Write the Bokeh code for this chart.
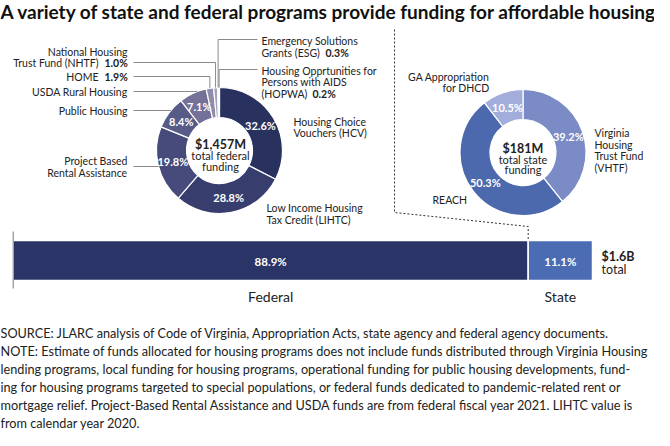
import math
from bokeh.plotting import figure
from bokeh.models import Range1d, ColumnDataSource
from bokeh.core.properties import value
from bokeh.embed import file_html
from bokeh.resources import INLINE

# ---------------- data ----------------
title = "A variety of state and federal programs provide funding for affordable housing"

fed_programs = ["HCV", "LIHTC", "PBRA", "Public Housing", "USDA", "HOME", "NHTF", "ESG", "HOPWA"]
fed_shares = [32.6, 28.8, 19.8, 8.4, 7.1, 1.9, 1.0, 0.3, 0.2]
fed_colors = ["#29325f", "#373e6e", "#464b7b", "#585b87", "#747199", "#8e8caa", "#a3a1bb", "#b9b8ca", "#cac9d6"]
fed_total_label = "$1,457M"
fed_center_lines = ["total federal", "funding"]

state_programs = ["VHTF", "REACH", "GA Appropriation"]
state_shares = [39.2, 50.3, 10.5]
state_colors = ["#7a8bc6", "#4d69ad", "#a2addb"]
state_total_label = "$181M"
state_center_lines = ["total state", "funding"]

bar_categories = ["Federal", "State"]
bar_shares = [88.9, 11.1]
bar_colors = ["#2b3466", "#4b6cb2"]
overall_total = "$1.6B"
overall_total_sub = "total"

note_lines = [
    "SOURCE: JLARC analysis of Code of Virginia, Appropriation Acts, state agency and federal agency documents.",
    "NOTE: Estimate of funds allocated for housing programs does not include funds distributed through Virginia Housing",
    "lending programs, local funding for housing programs, operational funding for public housing developments, fund-",
    "ing for housing programs targeted to special populations, or federal funds dedicated to pandemic-related rent or",
    "mortgage relief. Project-Based Rental Assistance and USDA funds are from federal fiscal year 2021. LIHTC value is",
    "from calendar year 2020.",
]

# ---------------- layout helpers ----------------
W, H = 654, 430
FONT = value("Lato")
TXT = "#222222"
LEAD = "#8a8a8a"


def X(px):
    return px - 8


def Y(py):
    return 438 - py


p = figure(width=W, height=H, output_backend="svg", toolbar_location=None,
           x_range=Range1d(0, W), y_range=Range1d(0, H),
           x_axis_type=None, y_axis_type=None, min_border=0)
p.outline_line_color = None
p.grid.visible = False
p.background_fill_color = "white"
p.border_fill_color = "white"


def label(x, y, text, size="10.5px", bold=False, align="left", color=TXT, baseline="middle"):
    p.text(x=[X(x)], y=[Y(y)], text=[text], text_font=FONT, text_font_size=size,
           text_font_style="bold" if bold else "normal", text_align=align,
           text_baseline=baseline, text_color=color)


def donut(cx, cy, shares, colors, r_in, r_out):
    tot = sum(shares)
    starts, ends, mids = [], [], []
    c = 0.0
    for s in shares:
        a0 = math.pi / 2 - 2 * math.pi * c / tot
        c += s
        a1 = math.pi / 2 - 2 * math.pi * c / tot
        starts.append(a0)
        ends.append(a1)
        mids.append((a0 + a1) / 2)
    src = ColumnDataSource(dict(start=starts, end=ends, color=colors))
    p.annular_wedge(x=X(cx), y=Y(cy), inner_radius=r_in, outer_radius=r_out,
                    start_angle="start", end_angle="end", direction="clock",
                    fill_color="color", line_color="white", line_width=1.2, source=src)
    rm = (r_in + r_out) / 2
    lx, ly, lt = [], [], []
    for s, m in zip(shares, mids):
        if s >= 5:
            lx.append(X(cx) + rm * math.cos(m))
            ly.append(Y(cy) + rm * math.sin(m))
            lt.append(f"{s:.1f}%")
    p.text(x=lx, y=ly, text=lt, text_font=FONT, text_font_size="11px", text_font_style="bold",
           text_align="center", text_baseline="middle", text_color="white")
    return mids


R_IN, R_OUT = 33, 63

# ---------------- federal donut ----------------
FCX, FCY = 227, 158
fmids = donut(FCX, FCY, fed_shares, fed_colors, R_IN, R_OUT)


def edge(cx, cy, ang):
    return X(cx) + R_OUT * math.cos(ang), Y(cy) + R_OUT * math.sin(ang)


def circle_x_left(cx, cy, py):
    dy = Y(py) - Y(cy)
    return X(cx) - math.sqrt(max(R_OUT ** 2 - dy ** 2, 0))


lead_xs, lead_ys = [], []
# vertical-drop leaders (left side): NHTF, HOME
for idx, ly in ((6, 70), (5, 84)):
    ex, ey = edge(FCX, FCY, fmids[idx])
    lead_xs.append([X(141), ex, ex])
    lead_ys.append([Y(ly), Y(ly), ey])
# horizontal leaders: USDA, Public Housing, PBRA
for ly in (99, 118, 174):
    lead_xs.append([X(141), circle_x_left(FCX, FCY, ly)])
    lead_ys.append([Y(ly), Y(ly)])
# right side vertical leaders: ESG, HOPWA
for idx, ly in ((7, 47), (8, 77)):
    ex, ey = edge(FCX, FCY, fmids[idx])
    lead_xs.append([X(265), ex, ex])
    lead_ys.append([Y(ly), Y(ly), ey])
p.multi_line(xs=lead_xs, ys=lead_ys, line_color=LEAD, line_width=1)

# left labels
label(135, 59, "National Housing", align="right")
label(106, 70, "Trust Fund (NHTF)", align="right")
label(112, 70, f"{fed_shares[6]:.1f}%", bold=True)
label(106, 84, "HOME", align="right")
label(112, 84, f"{fed_shares[5]:.1f}%", bold=True)
label(135, 99, "USDA Rural Housing", align="right")
label(135, 118, "Public Housing", align="right")
label(135, 168, "Project Based", align="right")
label(135, 180, "Rental Assistance", align="right")
# right labels
label(269, 48, "Emergency Solutions")
label(269, 60, "Grants (ESG)")
label(333, 60, f"{fed_shares[7]:.1f}%", bold=True)
label(269, 78, "Housing Opprtunities for")
label(269, 89, "Persons with AIDS")
label(269, 101, "(HOPWA)")
label(320, 101, f"{fed_shares[8]:.1f}%", bold=True)
label(301, 129, "Housing Choice")
label(301, 140, "Vouchers (HCV)")
label(274, 215, "Low Income Housing")
label(274, 227, "Tax Credit (LIHTC)")
# center
label(FCX + 1, 152, fed_total_label, size="12.5px", bold=True, align="center")
label(FCX + 1, 163, fed_center_lines[0], size="11px", align="center")
label(FCX + 1, 173.5, fed_center_lines[1], size="11px", align="center")

# ---------------- state donut ----------------
SCX, SCY = 530.5, 160
donut(SCX, SCY, state_shares, state_colors, R_IN, R_OUT)
label(497, 84, "GA Appropriation", align="right")
label(497, 95, "for DHCD", align="right")
label(602, 140, "Virginia")
label(602, 152, "Housing")
label(602, 163, "Trust Fund")
label(602, 175, "(VHTF)")
label(440, 207, "REACH")
label(SCX, 156, state_total_label, size="12.5px", bold=True, align="center")
label(SCX, 166.5, state_center_lines[0], size="11px", align="center")
label(SCX, 176.5, state_center_lines[1], size="11px", align="center")

# ---------------- stacked bar ----------------
BAR_L, BAR_R = X(20.7), X(600)
span = 100.0 * W / (BAR_R - BAR_L)
r0 = -BAR_L * span / W
p.extra_x_ranges = {"pct": Range1d(r0, r0 + span)}
lefts, rights = [], []
c = 0.0
for s in bar_shares:
    lefts.append(c)
    c += s
    rights.append(c)
bsrc = ColumnDataSource(dict(left=lefts, right=rights, color=bar_colors,
                             mid=[(a + b) / 2 for a, b in zip(lefts, rights)],
                             pct=[f"{s:.1f}%" for s in bar_shares], cat=bar_categories))
p.hbar(y=Y(268), height=40, left="left", right="right", fill_color="color",
       line_color="white", line_width=1.5, source=bsrc, x_range_name="pct")
p.text(x="mid", y=Y(268.5), text="pct", source=bsrc, x_range_name="pct", text_font=FONT,
       text_font_size="11.5px", text_font_style="bold", text_color="white",
       text_align="center", text_baseline="middle")
p.text(x="mid", y=Y(304), text="cat", source=bsrc, x_range_name="pct", text_font=FONT,
       text_font_size="14px", text_color=TXT, text_align="center", text_baseline="middle")
p.line(x=[X(20.7), X(20.7)], y=[Y(239), Y(296)], line_color="#7a7a7a", line_width=1)
label(609, 264, overall_total, size="12.5px", bold=True)
label(609, 277, overall_total_sub, size="12.5px")

# dotted connector from state donut to the state bar
bx = BAR_L + bar_shares[0] / 100.0 * (BAR_R - BAR_L)
p.line(x=[X(402), X(402), bx, bx], y=[Y(37), Y(220), Y(234), Y(247)],
       line_color="#333333", line_width=1, line_dash="2 2")

# ---------------- title & notes ----------------
label(8, 19, title, size="19px", bold=True, color="#111111")
for i, t in enumerate(note_lines):
    label(8, 340 + i * 18, t, size="12.7px", color=TXT)

open("out.html", "w").write(file_html(p, INLINE))
